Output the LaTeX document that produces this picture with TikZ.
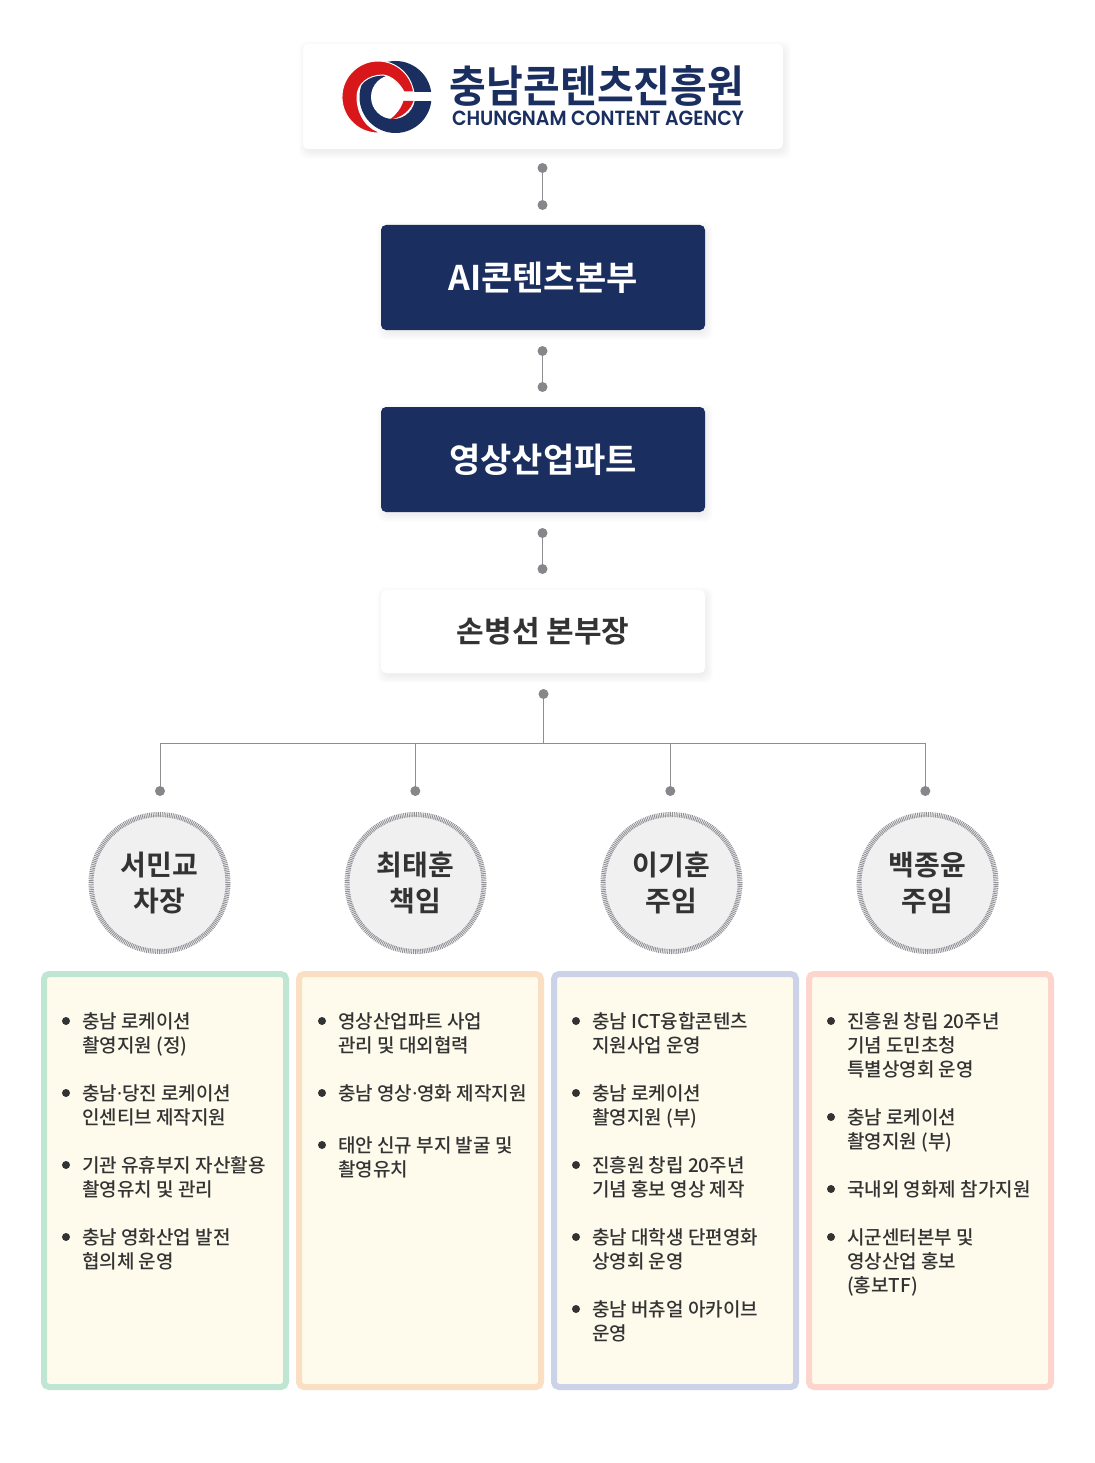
\documentclass[tikz,border=0pt]{standalone}
\usepackage{fontspec}
\setmainfont{Noto Sans CJK KR}[BoldFont={Noto Sans CJK KR Bold}]
\newfontfamily\medkr{Noto Sans CJK KR Medium}
\newfontfamily\logoen{Poppins SemiBold}
\newfontfamily\dotfont{Noto Sans}
\newcommand{\middot}{{\dotfont ·}}
\definecolor{navy}{HTML}{1A2F60}
\definecolor{logored}{HTML}{D8171B}
\definecolor{dotgray}{HTML}{87878B}
\definecolor{linegray}{HTML}{8E8E92}
\definecolor{ink}{HTML}{333333}
\definecolor{paper}{HTML}{FFFBEC}
\definecolor{pgreen}{HTML}{BFE6D2}
\definecolor{porange}{HTML}{FBDFC2}
\definecolor{pblue}{HTML}{CCD3E8}
\definecolor{ppink}{HTML}{FDD5CC}
\definecolor{ringfill}{HTML}{F0F0F1}
\definecolor{ringgray}{HTML}{8F8F94}
\tikzset{
  navybox/.style={fill=navy,rounded corners=5pt,minimum width=324pt,minimum height=105pt,inner sep=0pt,text=white,font=\fontsize{34}{40}\selectfont\bfseries},
  whitebox/.style={fill=white,rounded corners=5pt,inner sep=0pt},
  condot/.style={circle,fill=dotgray,minimum size=10pt,inner sep=0pt},
  conline/.style={draw=linegray,line width=1.2pt},
  person/.style={circle,fill=ringfill,draw=ringgray,line width=5pt,dash pattern=on 0.9pt off 0.9pt,minimum size=137pt,inner sep=0pt,text=ink,align=center,font=\fontsize{28}{36}\selectfont\bfseries},
  panel/.style={fill=paper,line width=6pt,rounded corners=5pt,minimum width=242pt,minimum height=413pt,inner sep=0pt},
  bullet/.style={circle,fill=ink,minimum size=8pt,inner sep=0pt},
  itemtext/.style={anchor=north west,inner sep=0pt,align=left,text=ink,font=\fontsize{19}{24}\selectfont\medkr},
}
\newcommand{\softshadow}[4]{%
  \foreach \i in {0,...,7}{
    \fill[black,opacity=0.009,rounded corners=8pt]
      (#1-\i+3,#2-\i+4) rectangle (#3+\i+1,#4+\i+3);
  }}
\newcommand{\itemat}[4]{% name, x-bullet, y-first-line-centre, text
  \node[bullet] (#1b) at (#2,#3+1) {};
  \node[itemtext] (#1t) at (#2+16,#3-8.4) {\strut #4};
}
\begin{document}
\begin{tikzpicture}[x=1pt,y=-1pt]
\useasboundingbox (0,0) rectangle (1094,1463);
\fill[white] (0,0) rectangle (1094,1463);

% boxes
\softshadow{303}{44}{783}{149}
\node[whitebox,minimum width=480pt,minimum height=105pt] (logobox) at (543,96.5) {};
\softshadow{381}{225}{705}{330}
\node[navybox] (hq) at (543,277.5) {AI콘텐츠본부};
\softshadow{381}{407}{705}{512}
\node[navybox] (part) at (543,459.5) {영상산업파트};
\softshadow{381}{590}{705}{673}
\node[whitebox,minimum width=324pt,minimum height=83pt,text=ink,font=\fontsize{30}{36}\selectfont\bfseries] (head) at (543,631.5) {\raisebox{-0.8pt}{손병선 본부장}};

% logo mark
\fill[navy] (395.5,97) circle (36);
\fill[white] (393,97) circle (22);
\fill[white] (400,92) rectangle (433,101);
\fill[logored,draw=white,line width=1pt]
  (413.6,92) arc[start angle=-8,end angle=-278,radius=36] coordinate (redtip)
  .. controls (368,131) and (357,115) .. (357,97)
  .. controls (357,84) and (368,75) .. (383,75)
  .. controls (392,76) and (400,84) .. (404,92) -- cycle;
\fill[logored] (403.5,101) -- (413.5,101) .. controls (410,111) and (401,118) .. (390,119.5)
  .. controls (396,115) and (401,109) .. (403.5,101) -- cycle;
\node[inner sep=0pt,text=navy] (logokr) at (597,86) {\resizebox{294pt}{37pt}{\bfseries 충남콘텐츠진흥원}};
\node[inner sep=0pt,text=navy] (logoen) at (598,118) {\resizebox{292pt}{14.5pt}{\logoen CHUNGNAM CONTENT AGENCY}};

% connector dots
\node[condot] (a1) at (542.5,168) {};
\node[condot] (a2) at (542.5,205) {};
\node[condot] (b1) at (542.5,351) {};
\node[condot] (b2) at (542.5,387) {};
\node[condot] (c1) at (542.5,533) {};
\node[condot] (c2) at (542.5,569) {};
\node[condot] (root) at (543.5,694) {};
\node[condot] (d1) at (160,791) {};
\node[condot] (d2) at (415.3,791) {};
\node[condot] (d3) at (670.3,791) {};
\node[condot] (d4) at (925.3,791) {};
\coordinate (bus) at (543.5,743.5);
\draw[conline] (a1) -- (a2);
\draw[conline] (b1) -- (b2);
\draw[conline] (c1) -- (c2);
\draw[conline,line width=1pt] (root) -- (bus);
\draw[conline,line width=1pt] (bus) -| (d1);
\draw[conline,line width=1pt] (bus) -| (d2);
\draw[conline,line width=1pt] (bus) -| (d3);
\draw[conline,line width=1pt] (bus) -| (d4);

% people
\node[person] (p1) at (159.5,883) {\raisebox{-2pt}{서민교}\\\raisebox{-2pt}{차장}};
\node[person] (p2) at (415.5,883) {\raisebox{-2pt}{최태훈}\\\raisebox{-2pt}{책임}};
\node[person] (p3) at (671.5,883) {\raisebox{-2pt}{이기훈}\\\raisebox{-2pt}{주임}};
\node[person] (p4) at (927.5,883) {\raisebox{-2pt}{백종윤}\\\raisebox{-2pt}{주임}};

% panels
\node[panel,draw=pgreen] (q1) at (165,1180.5) {};
\node[panel,draw=porange] (q2) at (420,1180.5) {};
\node[panel,draw=pblue] (q3) at (675,1180.5) {};
\node[panel,draw=ppink] (q4) at (930,1180.5) {};

% items
\itemat{i11}{66}{1020}{충남 로케이션\\\strut 촬영지원 (정)}
\itemat{i12}{66}{1092}{충남\middot 당진 로케이션\\\strut 인센티브 제작지원}
\itemat{i13}{66}{1164}{기관 유휴부지 자산활용\\\strut 촬영유치 및 관리}
\itemat{i14}{66}{1236}{충남 영화산업 발전\\\strut 협의체 운영}

\itemat{i21}{322}{1020}{영상산업파트 사업\\\strut 관리 및 대외협력}
\itemat{i22}{322}{1092}{충남 영상\middot 영화 제작지원}
\itemat{i23}{322}{1144}{태안 신규 부지 발굴 및\\\strut 촬영유치}

\itemat{i31}{576}{1020}{충남 ICT융합콘텐츠\\\strut 지원사업 운영}
\itemat{i32}{576}{1092}{충남 로케이션\\\strut 촬영지원 (부)}
\itemat{i33}{576}{1164}{진흥원 창립 20주년\\\strut 기념 홍보 영상 제작}
\itemat{i34}{576}{1236}{충남 대학생 단편영화\\\strut 상영회 운영}
\itemat{i35}{576}{1308}{충남 버츄얼 아카이브\\\strut 운영}

\itemat{i41}{831}{1020}{진흥원 창립 20주년\\\strut 기념 도민초청\\\strut 특별상영회 운영}
\itemat{i42}{831}{1116}{충남 로케이션\\\strut 촬영지원 (부)}
\itemat{i43}{831}{1188}{국내외 영화제 참가지원}
\itemat{i44}{831}{1236}{시군센터본부 및\\\strut 영상산업 홍보\\\strut (홍보TF)}
\end{tikzpicture}
\end{document}
